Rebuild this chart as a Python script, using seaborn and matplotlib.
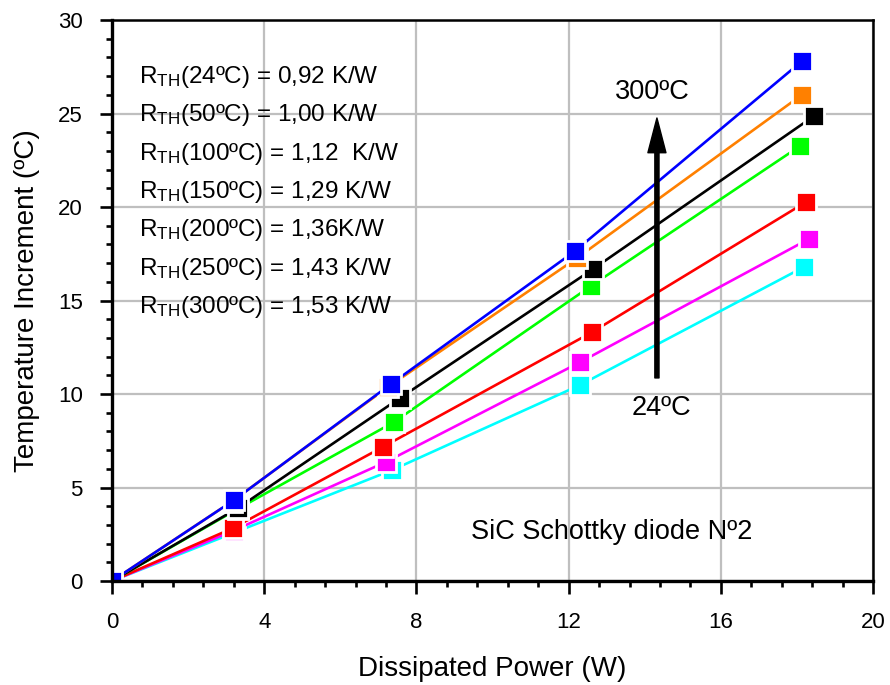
import pandas as pd
import matplotlib.pyplot as plt
import seaborn as sns
from matplotlib.ticker import MultipleLocator

# measured points, one list pair per junction temperature
P_24 = [0, 3.23, 7.36, 12.3, 18.19]
dT_24 = [0, 2.6, 5.93, 10.48, 16.8]
P_50 = [0, 3.2, 7.2, 12.3, 18.32]
dT_50 = [0, 2.7, 6.37, 11.7, 18.3]
P_100 = [0, 3.18, 7.12, 12.61, 18.24]
dT_100 = [0, 2.83, 7.17, 13.3, 20.27]
P_150 = [0, 3.3, 7.41, 12.59, 18.08]
dT_150 = [0, 3.85, 8.5, 15.78, 23.26]
P_200 = [0, 3.31, 7.57, 12.64, 18.45]
dT_200 = [0, 3.9, 9.79, 16.68, 24.87]
P_250 = [0, 3.15, 7.25, 12.22, 18.13]
dT_250 = [0, 4.25, 10.37, 17.27, 26.0]
P_300 = [0, 3.21, 7.33, 12.17, 18.13]
dT_300 = [0, 4.33, 10.53, 17.65, 27.8]

temps = ['24', '50', '100', '150', '200', '250', '300']
colors = ['#00FFFF', '#FF00FF', '#FF0000', '#00FF00', '#000000', '#FF8000', '#0000FF']
rth_labels = ['0,92 K/W', '1,00 K/W', '1,12  K/W', '1,29 K/W', '1,36K/W', '1,43 K/W', '1,53 K/W']

series = {
    '24': (P_24, dT_24), '50': (P_50, dT_50), '100': (P_100, dT_100),
    '150': (P_150, dT_150), '200': (P_200, dT_200), '250': (P_250, dT_250),
    '300': (P_300, dT_300),
}
rows = []
for t in temps:
    for p, d in zip(*series[t]):
        rows.append({'P': p, 'dT': d, 'T': t})
df = pd.DataFrame(rows)

sns.set_style('white')
plt.rcParams['font.family'] = ['Liberation Sans', 'DejaVu Sans']
plt.rcParams['mathtext.default'] = 'regular'
plt.rcParams['text.color'] = 'black'
plt.rcParams['axes.labelcolor'] = 'black'

fig = plt.figure(figsize=(8.9, 6.85), dpi=100)
ax = fig.add_axes([0.1258, 0.1518, 0.8552, 0.819])

sns.lineplot(data=df, x='P', y='dT', hue='T', hue_order=temps, palette=colors,
             estimator=None, sort=False, marker='s', markersize=14,
             markeredgecolor='white', markeredgewidth=2, linewidth=1.9,
             legend=False, ax=ax)

ax.set_xlim(0, 20)
ax.set_ylim(0, 30)
ax.xaxis.set_major_locator(MultipleLocator(4))
ax.xaxis.set_minor_locator(MultipleLocator(0.8))
ax.yaxis.set_major_locator(MultipleLocator(5))
ax.yaxis.set_minor_locator(MultipleLocator(1))
ax.grid(True, which='major', color='#BFBFBF', linewidth=1.6)
ax.set_axisbelow(True)

for side in ['left', 'bottom']:
    ax.spines[side].set_linewidth(2.4)
    ax.spines[side].set_color('black')
for side in ['top', 'right']:
    ax.spines[side].set_linewidth(1.8)
    ax.spines[side].set_color('black')

ax.tick_params(which='both', bottom=True, left=True, top=False, right=False,
               direction='out', color='black', labelcolor='black')
ax.tick_params(which='major', length=9, width=1.9, labelsize=16)
ax.tick_params(which='minor', length=4.5, width=1.9)
ax.tick_params(axis='x', which='major', pad=13)
ax.tick_params(axis='y', which='major', pad=12)

ax.set_xlabel('Dissipated Power (W)', fontsize=20, labelpad=17)
ax.set_ylabel('Temperature Increment (ºC)', fontsize=20, labelpad=13)

y0 = 26.63
for i, (t, r) in enumerate(zip(temps, rth_labels)):
    ax.text(0.71, y0 - i * 2.05, r'R$_{TH}$(' + t + 'ºC) = ' + r,
            fontsize=17.5, ha='left', va='baseline')

ax.annotate('', xy=(14.32, 24.76), xytext=(14.32, 10.86),
            arrowprops=dict(width=3, headwidth=13, headlength=25,
                            facecolor='black', edgecolor='black', shrink=0))
ax.text(14.2, 26.15, '300ºC', fontsize=19.5, ha='center', va='center')
ax.text(14.43, 9.25, '24ºC', fontsize=19.5, ha='center', va='center')
ax.text(13.12, 2.25, 'SiC Schottky diode Nº2', fontsize=19.5, ha='center', va='baseline')

fig.savefig('out.png', dpi=100)
